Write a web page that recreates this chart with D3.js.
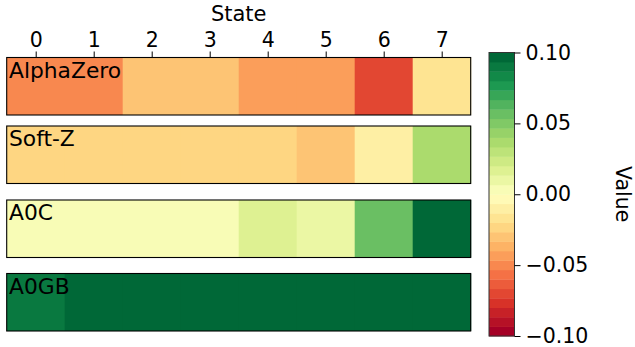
<!DOCTYPE html>
<html>
<head>
<meta charset="utf-8">
<script src="https://cdn.jsdelivr.net/npm/d3@7"></script>
<style>
  html, body { margin: 0; padding: 0; background: #fff; }
  svg { display: block; font-family: "DejaVu Sans", sans-serif; }
</style>
</head>
<body>
<svg id="chart" width="635" height="347"></svg>
<script>
// State indices along the horizontal axis
const states = [0, 1, 2, 3, 4, 5, 6, 7];
// One heat strip per method
const methods = ["AlphaZero", "Soft-Z", "A0C", "A0GB"];
// Per-state values for each method
const alphaZeroValues = [-0.05, -0.05, -0.03, -0.03, -0.043, -0.043, -0.07, -0.017];
const softZValues     = [-0.023, -0.023, -0.023, -0.023, -0.023, -0.03, -0.01, 0.037];
const a0cValues       = [0.003, 0.003, 0.003, 0.003, 0.017, 0.01, 0.057, 0.1];
const a0gbValues      = [0.09, 0.1, 0.1, 0.1, 0.1, 0.1, 0.1, 0.1];
// Colour bar ticks
const colorTicks = [-0.1, -0.05, 0, 0.05, 0.1];
const valueDomain = [-0.1, 0.1];
const nLevels = 30;

const seriesByMethod = [alphaZeroValues, softZValues, a0cValues, a0gbValues];

// RdYlGn (11 ColorBrewer stops, linear between them), sampled into discrete levels
const rdylgn = ["#a50026", "#d73027", "#f46d43", "#fdae61", "#fee08b", "#ffffbf",
                "#d9ef8b", "#a6d96a", "#66bd63", "#1a9850", "#006837"];
const cmap = d3.scaleLinear()
  .domain(d3.range(rdylgn.length).map(k => k / (rdylgn.length - 1)))
  .range(rdylgn)
  .interpolate(d3.interpolateRgb);
function levelOf(v) {
  const t = (v - valueDomain[0]) / (valueDomain[1] - valueDomain[0]);
  return Math.max(0, Math.min(nLevels - 1, Math.floor(t * nLevels + 1e-9)));
}
const color = v => cmap(levelOf(v) / (nLevels - 1));

const svg = d3.select("#chart");

// Horizontal state scale shared by all strips
const x = d3.scaleLinear().domain([-0.5, 7.5]).range([6.7, 470.7]);
const rowTops = [57.5, 126, 200, 273.5];
const rowH = 57.5;

methods.forEach((m, r) => {
  const g = svg.append("g").attr("transform", `translate(0,${rowTops[r]})`);
  g.selectAll("rect.cell")
    .data(seriesByMethod[r].map((v, i) => ({ state: states[i], v })))
    .join("rect")
    .attr("class", "cell")
    .attr("x", d => x(d.state - 0.5))
    .attr("width", d => x(d.state + 0.5) - x(d.state - 0.5) + 0.5)
    .attr("y", 0)
    .attr("height", rowH)
    .attr("fill", d => color(d.v));
  g.append("rect")
    .attr("x", x(-0.5)).attr("y", 0)
    .attr("width", x(7.5) - x(-0.5)).attr("height", rowH)
    .attr("fill", "none").attr("stroke", "#000").attr("stroke-width", 1.1);
  g.append("text")
    .attr("x", 9).attr("y", 20)
    .attr("font-size", 21.8)
    .attr("fill", "#000")
    .text(m);
});

// Top state axis on the first strip
const topAxis = d3.axisTop(x).tickValues(states).tickFormat(d3.format("d"))
  .tickSize(6).tickPadding(5);
const axG = svg.append("g").attr("transform", `translate(0,${rowTops[0]})`).call(topAxis);
axG.select(".domain").remove();
axG.selectAll("text").attr("font-size", 20.5).attr("fill", "#000")
  .attr("font-family", "DejaVu Sans");
axG.selectAll("line").attr("stroke", "#000");

svg.append("text")
  .attr("x", x(3.5)).attr("y", 20.5)
  .attr("text-anchor", "middle")
  .attr("font-size", 21)
  .text("State");

// Colour bar
const cbX = 489, cbW = 25.5;
const cy = d3.scaleLinear().domain(valueDomain).range([336, 52.5]);
const step = (valueDomain[1] - valueDomain[0]) / nLevels;
svg.append("g").selectAll("rect")
  .data(d3.range(nLevels))
  .join("rect")
  .attr("x", cbX)
  .attr("width", cbW)
  .attr("y", i => cy(valueDomain[0] + (i + 1) * step))
  .attr("height", i => cy(valueDomain[0] + i * step) - cy(valueDomain[0] + (i + 1) * step) + 0.4)
  .attr("fill", i => cmap(i / (nLevels - 1)));
svg.append("rect")
  .attr("x", cbX).attr("y", cy(valueDomain[1]))
  .attr("width", cbW).attr("height", cy(valueDomain[0]) - cy(valueDomain[1]))
  .attr("fill", "none").attr("stroke", "#333").attr("stroke-width", 1);

const cbAxis = d3.axisRight(cy).tickValues(colorTicks)
  .tickFormat(d => d3.format(".2f")(d).replace("-", "\u2212"))
  .tickSize(6).tickPadding(5);
const cbG = svg.append("g").attr("transform", `translate(${cbX + cbW},0)`).call(cbAxis);
cbG.select(".domain").remove();
cbG.selectAll("text").attr("font-size", 20.5).attr("fill", "#000")
  .attr("font-family", "DejaVu Sans");
cbG.selectAll("line").attr("stroke", "#000");

svg.append("text")
  .attr("transform", `translate(616,${(cy(0.1) + cy(-0.1)) / 2}) rotate(90)`)
  .attr("text-anchor", "middle")
  .attr("font-size", 20.5)
  .text("Value");
</script>
</body>
</html>
